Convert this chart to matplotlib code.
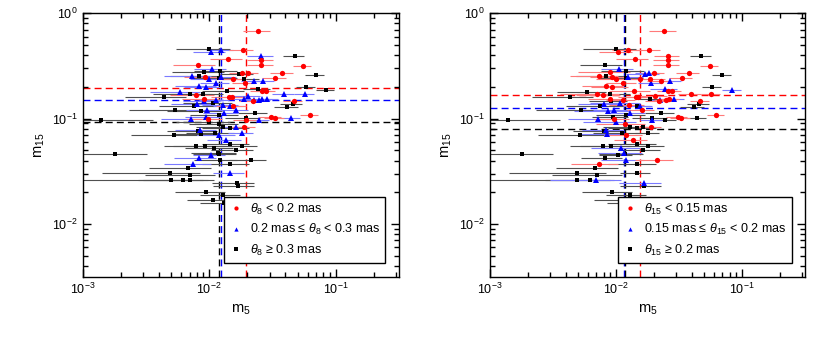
import numpy as np
import matplotlib
matplotlib.use("Agg")
import matplotlib.pyplot as plt
from matplotlib.ticker import LogLocator, NullFormatter

plt.rcParams["font.family"] = ["Liberation Sans", "DejaVu Sans"]
plt.rcParams["mathtext.fontset"] = "custom"
plt.rcParams["mathtext.rm"] = "Liberation Sans"
plt.rcParams["mathtext.it"] = "Liberation Sans:italic"

# per-source values (same sources in both panels)
m5 = [0.0242, 0.0100, 0.0184, 0.0124, 0.0104, 0.0476, 0.0259, 0.0141, 0.0258, 0.0258,
      0.00816, 0.0554, 0.0106, 0.00905, 0.0121, 0.0171, 0.0183, 0.0202, 0.0380, 0.0694,
      0.00736, 0.00836, 0.0100, 0.0124, 0.0120, 0.00927, 0.0154, 0.0187, 0.0333, 0.0227,
      0.0267, 0.0114, 0.0191, 0.00836, 0.00938, 0.0582, 0.0245, 0.0833, 0.0260, 0.0280,
      0.00591, 0.0392, 0.0571, 0.00709, 0.00894, 0.0138, 0.00786, 0.00436, 0.0144, 0.0151,
      0.0204, 0.0188, 0.00905, 0.0113, 0.0225, 0.0250, 0.0264, 0.0287, 0.0221, 0.0465,
      0.00916, 0.00801, 0.0107, 0.0128, 0.0456, 0.0414, 0.00533, 0.00754, 0.0147, 0.00862,
      0.00961, 0.0130, 0.0162, 0.0154, 0.0120, 0.0229, 0.0309, 0.0329, 0.0626, 0.00140,
      0.00718, 0.0095, 0.00973, 0.0194, 0.0194, 0.0247, 0.0440, 0.0100, 0.0119, 0.0129,
      0.0147, 0.0190, 0.0163, 0.00811, 0.00856, 0.0111, 0.00841, 0.00523, 0.0120, 0.0181,
      0.0137, 0.00786, 0.00921, 0.0109, 0.0147, 0.0181, 0.0117, 0.0164, 0.0119, 0.0018,
      0.00826, 0.0104, 0.0121, 0.0213, 0.0147, 0.0074, 0.00684, 0.00492, 0.00709, 0.0147,
      0.00495, 0.00624, 0.0070, 0.0166, 0.0168, 0.00938, 0.0129, 0.0107, 0.0130]

m15 = [0.673, 0.461, 0.452, 0.445, 0.425, 0.390, 0.390, 0.368, 0.363, 0.325,
       0.325, 0.313, 0.296, 0.277, 0.281, 0.267, 0.271, 0.271, 0.269, 0.259,
       0.255, 0.255, 0.238, 0.248, 0.242, 0.246, 0.238, 0.239, 0.241, 0.229,
       0.229, 0.219, 0.219, 0.202, 0.199, 0.198, 0.192, 0.185, 0.184, 0.184,
       0.180, 0.172, 0.172, 0.170, 0.171, 0.183, 0.166, 0.159, 0.159, 0.159,
       0.163, 0.155, 0.154, 0.151, 0.151, 0.151, 0.154, 0.154, 0.148, 0.148,
       0.148, 0.137, 0.141, 0.136, 0.138, 0.129, 0.120, 0.131, 0.131, 0.119,
       0.122, 0.113, 0.122, 0.131, 0.109, 0.112, 0.103, 0.101, 0.109, 0.0963,
       0.099, 0.104, 0.0985, 0.101, 0.097, 0.0963, 0.101, 0.092, 0.0886, 0.0842,
       0.0824, 0.0842, 0.0842, 0.076, 0.0721, 0.0728, 0.0783, 0.0707, 0.0697, 0.0728,
       0.0631, 0.0553, 0.0545, 0.0525, 0.0574, 0.0553, 0.0477, 0.0506, 0.0464, 0.046,
       0.0422, 0.0454, 0.0407, 0.0407, 0.0373, 0.037, 0.0339, 0.0304, 0.0293, 0.0304,
       0.0261, 0.026, 0.0263, 0.0243, 0.0228, 0.0201, 0.019, 0.017, 0.016]

m5_err = [0.0058, 0.0045, 0.004, 0.003, 0.003, 0.009, 0.006, 0.004, 0.006, 0.006,
          0.003, 0.009, 0.003, 0.004, 0.0045, 0.005, 0.004, 0.004, 0.008, 0.012,
          0.003, 0.0035, 0.003, 0.004, 0.0045, 0.003, 0.004, 0.006, 0.007, 0.005,
          0.006, 0.003, 0.004, 0.003, 0.003, 0.01, 0.006, 0.014, 0.005, 0.005,
          0.0025, 0.008, 0.01, 0.0035, 0.004, 0.005, 0.003, 0.0022, 0.004, 0.004,
          0.005, 0.004, 0.003, 0.003, 0.005, 0.005, 0.005, 0.006, 0.005, 0.008,
          0.003, 0.003, 0.0045, 0.004, 0.009, 0.009, 0.003, 0.0035, 0.004, 0.004,
          0.003, 0.004, 0.004, 0.004, 0.005, 0.006, 0.006, 0.006, 0.01, 0.0022,
          0.003, 0.003, 0.003, 0.006, 0.004, 0.005, 0.008, 0.0045, 0.005, 0.005,
          0.006, 0.004, 0.004, 0.0035, 0.0035, 0.0045, 0.003, 0.0028, 0.004, 0.004,
          0.004, 0.0035, 0.004, 0.0045, 0.006, 0.006, 0.0045, 0.006, 0.0045, 0.0014,
          0.003, 0.003, 0.0045, 0.007, 0.006, 0.003, 0.0035, 0.0035, 0.004, 0.004,
          0.004, 0.0035, 0.004, 0.006, 0.006, 0.004, 0.0045, 0.004, 0.0045]

# 0: small, 1: middle, 2: large angular size
group_theta8 = [0, 2, 0, 1, 1, 2, 1, 0, 0, 0,
                0, 0, 1, 2, 2, 2, 0, 0, 0, 2,
                1, 2, 1, 1, 2, 0, 0, 2, 0, 1,
                1, 1, 0, 1, 1, 2, 2, 2, 0, 0,
                1, 1, 1, 2, 2, 2, 0, 2, 0, 0,
                1, 1, 0, 1, 1, 1, 1, 1, 0, 0,
                1, 1, 2, 1, 2, 2, 2, 2, 1, 2,
                1, 1, 1, 0, 2, 2, 0, 0, 0, 2,
                1, 1, 0, 2, 0, 1, 1, 2, 2, 2,
                2, 0, 1, 2, 2, 2, 1, 2, 1, 1,
                1, 2, 2, 2, 2, 2, 2, 2, 2, 2,
                1, 1, 2, 2, 2, 1, 2, 2, 2, 1,
                2, 2, 2, 2, 2, 2, 2, 2, 2]

group_theta15 = [0, 2, 0, 0, 0, 2, 0, 0, 0, 0,
                 2, 0, 1, 0, 2, 1, 1, 0, 0, 2,
                 0, 2, 0, 1, 2, 0, 0, 0, 0, 0,
                 1, 0, 1, 0, 0, 2, 1, 1, 0, 0,
                 2, 0, 0, 0, 2, 0, 0, 2, 0, 0,
                 0, 2, 0, 0, 1, 0, 0, 1, 0, 0,
                 2, 1, 1, 0, 2, 2, 2, 2, 2, 1,
                 1, 1, 0, 1, 2, 2, 0, 0, 0, 2,
                 1, 2, 0, 2, 1, 2, 2, 1, 0, 2,
                 2, 0, 2, 2, 1, 2, 1, 2, 0, 2,
                 0, 2, 2, 1, 2, 2, 1, 2, 2, 2,
                 2, 2, 1, 0, 2, 0, 2, 2, 2, 2,
                 2, 2, 1, 1, 2, 2, 2, 2, 2]

# dashed lines per group (red, blue, black)
theta8_line_m5 = [0.0194, 0.0124, 0.0119]
theta8_line_m15 = [0.197, 0.150, 0.0933]
theta15_line_m5 = [0.01545, 0.0115, 0.0119]
theta15_line_m15 = [0.169, 0.125, 0.0789]

labels_theta8 = [r"$\theta_8$ < 0.2 mas",
                 r"0.2 mas ≤ $\theta_8$ < 0.3 mas",
                 r"$\theta_8$ ≥ 0.3 mas"]
labels_theta15 = [r"$\theta_{15}$ < 0.15 mas",
                  r"0.15 mas ≤ $\theta_{15}$ < 0.2 mas",
                  r"$\theta_{15}$ ≥ 0.2 mas"]

COLORS = ["#ff0000", "#0000ff", "#000000"]
BAR_COLORS = ["#ff7a7a", "#7a7aff", "#505050"]
MARKERS = ["o", "^", "s"]
MSIZES = [3.8, 3.8, 3.0]

XLIM = (1e-3, 10 ** -0.5)
YLIM = (10 ** -2.5, 1)


def set_log_limits(ax):
    ax.set_xscale("log")
    ax.set_yscale("log")
    ax.set_xlim(*XLIM)
    ax.set_ylim(*YLIM)


def draw_panel(fig, rect, groups, line_x, line_y, labels):
    x = np.array(m5)
    y = np.array(m15)
    xe = np.array(m5_err)
    g = np.array(groups)

    # data layer
    ax = fig.add_axes(rect)
    set_log_limits(ax)
    for k in range(3):
        ax.axvline(line_x[k], color=COLORS[k], ls=(0, (5, 3)), lw=1.0, zorder=1.5)
        ax.axhline(line_y[k], color=COLORS[k], ls=(0, (5, 3)), lw=1.0, zorder=1.5)

    handles = {}
    for k in [2, 1, 0]:
        sel = g == k
        ax.errorbar(x[sel], y[sel], xerr=xe[sel], fmt="none", ecolor=BAR_COLORS[k],
                    elinewidth=0.8, capsize=0, zorder=2)
        h, = ax.plot(x[sel], y[sel], linestyle="none", marker=MARKERS[k], color=COLORS[k],
                     markersize=MSIZES[k], markeredgewidth=0, zorder=3)
        handles[k] = h

    ax.tick_params(which="both", length=0, labelbottom=False, labelleft=False)
    for sp in ax.spines.values():
        sp.set_visible(False)

    leg = ax.legend([handles[0], handles[1], handles[2]], labels, loc="lower right",
                    bbox_to_anchor=(0.977, 0.03), fancybox=False, edgecolor="black",
                    framealpha=1, fontsize=9, handlelength=1.2, handletextpad=0.5,
                    borderpad=0.4, labelspacing=0.42, markerscale=0.8)
    leg.get_frame().set_linewidth(1.0)

    # frame layer: box, ticks and labels on a clean transparent axes on top
    frame = fig.add_axes(rect, facecolor="none", zorder=ax.get_zorder() + 1)
    set_log_limits(frame)
    frame.xaxis.set_minor_locator(LogLocator(base=10, subs=np.arange(2, 10), numticks=40))
    frame.yaxis.set_minor_locator(LogLocator(base=10, subs=np.arange(2, 10), numticks=40))
    frame.xaxis.set_minor_formatter(NullFormatter())
    frame.yaxis.set_minor_formatter(NullFormatter())
    frame.tick_params(axis="both", which="major", direction="in", top=True, right=True,
                      labelsize=9, width=1.0, length=6)
    frame.tick_params(axis="both", which="minor", direction="in", top=True, right=True,
                      width=1.0, length=3.5)
    for sp in frame.spines.values():
        sp.set_linewidth(1.0)
    frame.set_xlabel("m$_5$", fontsize=10.5)
    frame.set_ylabel("m$_{15}$", fontsize=10.5)


fig = plt.figure(figsize=(8.3, 3.38), dpi=100)
draw_panel(fig, [0.0996, 0.181, 0.381, 0.780], group_theta8,
           theta8_line_m5, theta8_line_m15, labels_theta8)
draw_panel(fig, [0.590, 0.181, 0.380, 0.780], group_theta15,
           theta15_line_m5, theta15_line_m15, labels_theta15)

fig.savefig("out.png", dpi=100)
